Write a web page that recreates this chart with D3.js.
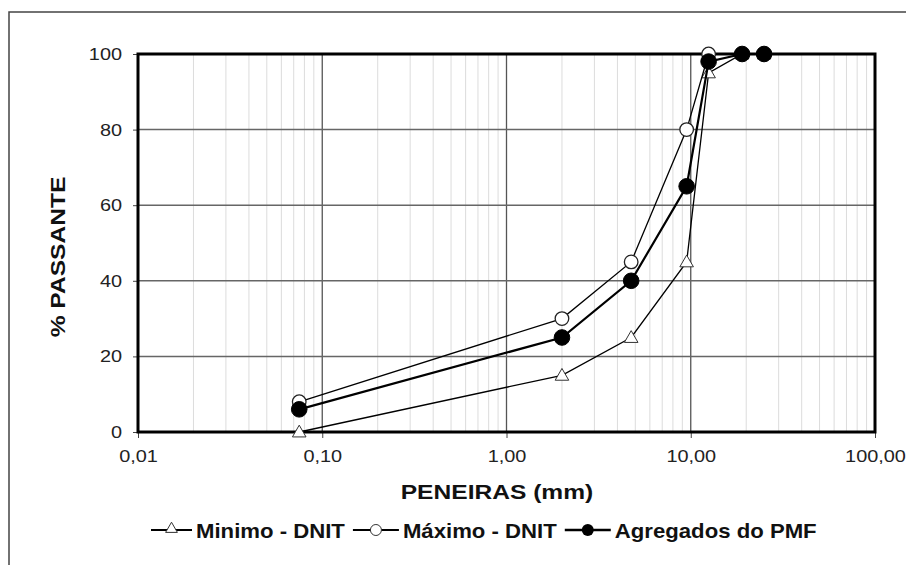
<!DOCTYPE html>
<html><head><meta charset="utf-8">
<script src="https://cdn.jsdelivr.net/npm/d3@7"></script>
<style>body{margin:0;background:#fff}svg{display:block;font-family:"Liberation Sans",Arial,sans-serif}</style>
</head><body><svg id="c" width="906" height="565"></svg>
<script>
const sieves = [0.075, 2.0, 4.75, 9.5, 12.5, 19, 25];
const minimo = [0, 15, 25, 45, 95, 100, 100];
const maximo = [8, 30, 45, 80, 100, 100, 100];
const agregados = [6, 25, 40, 65, 98, 100, 100];
const xTicks = [0.01, 0.1, 1, 10, 100];
const xTickLabels = ["0,01", "0,10", "1,00", "10,00", "100,00"];
const yTicks = [0, 20, 40, 60, 80, 100];
const seriesNames = ["Minimo - DNIT", "Máximo - DNIT", "Agregados do PMF"];

const svg = d3.select("#c");
const L = 138, R = 875, T = 54, B = 432;
const STRETCH = 1.17;
const x = d3.scaleLog().domain([0.01, 100]).range([L, R]);
const y = d3.scaleLinear().domain([0, 100]).range([B, T]);

function stretch(sel, k) {
  sel.each(function () {
    const w = this.getComputedTextLength();
    d3.select(this).attr("textLength", w * k).attr("lengthAdjust", "spacingAndGlyphs");
  });
}

// outer border (left and top only visible)
svg.append("path").attr("d", "M9,570 L9,12 L910,12").attr("fill", "none").attr("stroke", "#444").attr("stroke-width", 1.5);

// minor vertical grid
const minor = [];
for (let d = 0.01; d < 100; d *= 10) for (let k = 2; k <= 9; k++) minor.push(d * k);
svg.append("g").selectAll("line").data(minor).join("line")
  .attr("x1", d => x(d)).attr("x2", d => x(d)).attr("y1", T).attr("y2", B)
  .attr("stroke", "#dcdcdc").attr("stroke-width", 1);
// major vertical grid
svg.append("g").selectAll("line").data(xTicks.slice(1, -1)).join("line")
  .attr("x1", d => x(d)).attr("x2", d => x(d)).attr("y1", T).attr("y2", B)
  .attr("stroke", "#555").attr("stroke-width", 1.3);
// horizontal grid
svg.append("g").selectAll("line").data(yTicks.slice(1, -1)).join("line")
  .attr("x1", L).attr("x2", R).attr("y1", d => y(d)).attr("y2", d => y(d))
  .attr("stroke", "#666").attr("stroke-width", 1.5);

// axes
const yAxis = d3.axisLeft(y).tickValues(yTicks).tickSize(5).tickPadding(11);
const gy = svg.append("g").attr("transform", `translate(${L},0)`).call(yAxis);
gy.select(".domain").remove();
gy.selectAll("text").attr("font-size", 17).attr("fill", "#222").attr("font-family", "Liberation Sans, Arial");
stretch(gy.selectAll("text"), STRETCH);
gy.selectAll("line").attr("stroke", "#444");

const xAxis = d3.axisBottom(x).tickValues(xTicks).tickFormat((d, i) => xTickLabels[i]).tickSize(6).tickPadding(6);
const gx = svg.append("g").attr("transform", `translate(0,${B})`).call(xAxis);
gx.select(".domain").remove();
gx.selectAll("text").attr("font-size", 17).attr("fill", "#222").attr("font-family", "Liberation Sans, Arial").attr("dy", "1.05em");
stretch(gx.selectAll("text"), STRETCH);
gx.selectAll("line").attr("stroke", "#444");

// frame
svg.append("rect").attr("x", L).attr("y", T).attr("width", R - L).attr("height", B - T)
  .attr("fill", "none").attr("stroke", "#000").attr("stroke-width", 3);

// titles
const xt = svg.append("text").attr("x", 497).attr("y", 499).attr("text-anchor", "middle")
  .attr("font-size", 21).attr("font-weight", "bold").attr("fill", "#111").text("PENEIRAS (mm)");
stretch(xt, STRETCH);
const yt = svg.append("text").attr("transform", "translate(65,257) rotate(-90)").attr("text-anchor", "middle")
  .attr("font-size", 21).attr("font-weight", "bold").attr("fill", "#111").text("% PASSANTE");
stretch(yt, STRETCH);

// series
const line = d3.line().x(d => x(d[0])).y(d => y(d[1]));
const mk = (vals) => sieves.map((s, i) => [s, vals[i]]);
const tri = d3.symbol().type(d3.symbolTriangle).size(80);

function drawMarker(g, type, cx, cy) {
  if (type === 0) {
    g.append("path").attr("d", tri()).attr("transform", `translate(${cx},${cy + 1})`)
      .attr("fill", "#fff").attr("stroke", "#333").attr("stroke-width", 1);
  } else if (type === 1) {
    g.append("circle").attr("cx", cx).attr("cy", cy).attr("r", 6.8)
      .attr("fill", "#fff").attr("stroke", "#222").attr("stroke-width", 1.3);
  } else {
    g.append("circle").attr("cx", cx).attr("cy", cy).attr("r", 7.8)
      .attr("fill", "#000").attr("stroke", "#000").attr("stroke-width", 1);
  }
}
const all = [minimo, maximo, agregados];
const widths = [1.3, 1.3, 2.2];
all.forEach((vals, si) => {
  const g = svg.append("g");
  g.append("path").datum(mk(vals)).attr("d", line).attr("fill", "none")
    .attr("stroke", "#000").attr("stroke-width", widths[si]);
  mk(vals).forEach(d => drawMarker(g, si, x(d[0]), y(d[1])));
});

// legend
const lg = svg.append("g");
let lx = 151;
const ly = 530;
seriesNames.forEach((name, si) => {
  const lw = si === 0 ? 41 : 46;
  lg.append("line").attr("x1", lx).attr("x2", lx + lw).attr("y1", ly).attr("y2", ly)
    .attr("stroke", "#000").attr("stroke-width", widths[si] + 0.5);
  const g = lg.append("g");
  if (si === 0) g.append("path").attr("d", d3.symbol().type(d3.symbolTriangle).size(60)()).attr("transform", `translate(${lx + lw / 2},${ly - 1})`).attr("fill", "#fff").attr("stroke", "#333");
  else if (si === 1) g.append("circle").attr("cx", lx + lw / 2).attr("cy", ly).attr("r", 5.5).attr("fill", "#fff").attr("stroke", "#333");
  else g.append("circle").attr("cx", lx + lw / 2).attr("cy", ly).attr("r", 6).attr("fill", "#000");
  const t = lg.append("text").attr("x", lx + lw + 4).attr("y", ly + 7.5).attr("font-size", 21)
    .attr("font-weight", "bold").attr("fill", "#111").text(name);
  stretch(t, 1.055);
  lx = lx + lw + 4 + +t.attr("textLength") + 8;
});
</script></body></html>
